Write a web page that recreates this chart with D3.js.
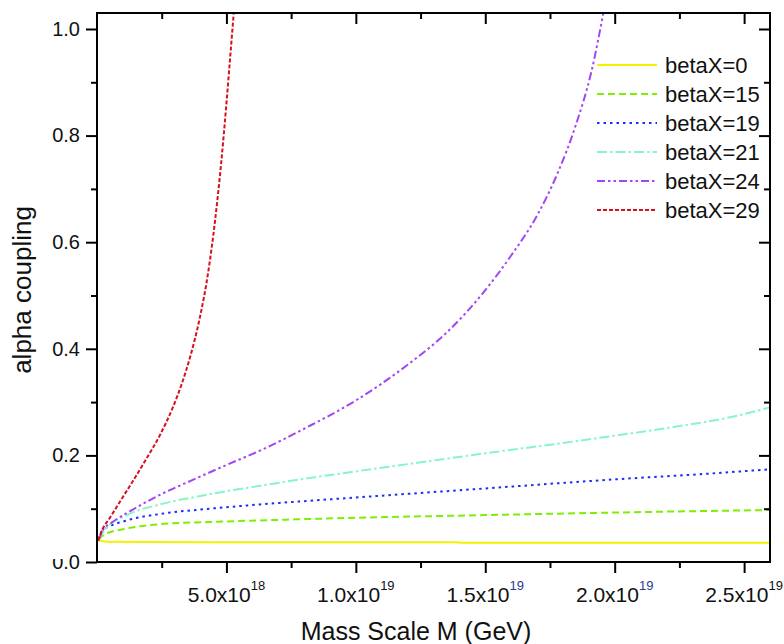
<!DOCTYPE html>
<html>
<head>
<meta charset="utf-8">
<script src="https://cdn.jsdelivr.net/npm/d3@7"></script>
<style>
  body { margin: 0; background: #fff; }
  svg text { font-family: Arial, "Liberation Sans", sans-serif; fill: #111; }
</style>
</head>
<body>
<div id="chart"></div>
<script>
// Set up conventions
let width = 784;
let height = 644;
let margin = ({top: 13, right: 14, bottom: 82, left: 97});

// values: [mass M in GeV, alpha]
let beta0 = [[0.05e18, 0.041], [0.5e18, 0.038], [2e18, 0.0375], [8e18, 0.037], [13.8e18, 0.037], [14.2e18, 0.036], [26e18, 0.036]];
let beta15 = [[0.05e18, 0.042], [0.3e18, 0.052], [1.16e18, 0.063], [2.43e18, 0.071], [4.36e18, 0.075], [6.3e18, 0.078], [10e18, 0.083], [15e18, 0.088], [21.4e18, 0.094], [26e18, 0.0975]];
let beta19 = [[0.05e18, 0.043], [0.2e18, 0.058], [1.16e18, 0.078], [2.43e18, 0.09], [4.36e18, 0.1], [6.3e18, 0.108], [10e18, 0.121], [15e18, 0.138], [20e18, 0.155], [23.7e18, 0.166], [26e18, 0.174]];
let beta21 = [[0.05e18, 0.042], [0.3e18, 0.06], [1.16e18, 0.088], [2.43e18, 0.108], [4e18, 0.124], [5e18, 0.133], [6.3e18, 0.143], [8e18, 0.156], [10e18, 0.17], [12.5e18, 0.187], [15e18, 0.204], [17.5e18, 0.22], [20e18, 0.237], [22.5e18, 0.255], [24.5e18, 0.272], [26e18, 0.29]];
let beta24 = [[0.05e18, 0.04], [0.23e18, 0.06], [0.6e18, 0.075], [1.16e18, 0.092], [2.43e18, 0.126], [3.7e18, 0.154], [5e18, 0.182], [6.3e18, 0.209], [8e18, 0.25], [10e18, 0.303], [12e18, 0.37], [13.5e18, 0.43], [15e18, 0.51], [16e18, 0.575], [17e18, 0.65], [17.8e18, 0.73], [18.5e18, 0.82], [19.1e18, 0.92], [19.6e18, 1.04]];
let beta29 = [[0.05e18, 0.04], [0.2e18, 0.06], [0.5e18, 0.083], [1e18, 0.122], [1.39e18, 0.152], [1.9e18, 0.193], [2.43e18, 0.238], [2.93e18, 0.29], [3.28e18, 0.335], [3.6e18, 0.385], [3.98e18, 0.46], [4.3e18, 0.545], [4.56e18, 0.64], [4.8e18, 0.75], [5e18, 0.86], [5.15e18, 0.95], [5.3e18, 1.04]];

let seriesNames = ["betaX=0", "betaX=15", "betaX=19", "betaX=21", "betaX=24", "betaX=29"];
let seriesData = [beta0, beta15, beta19, beta21, beta24, beta29];

let xMajorTicks = [5e18, 1e19, 1.5e19, 2e19, 2.5e19];
let xTickMantissa = ["5.0", "1.0", "1.5", "2.0", "2.5"];
let xTickExponent = ["18", "19", "19", "19", "19"];
let yMajorTicks = [0, 0.2, 0.4, 0.6, 0.8, 1.0];

let colors = ["#f2f200", "#7cf000", "#1a2cf5", "#86f5c8", "#a146f5", "#d8101e"];
let dashes = ["none", "7,4", "2.5,4", "10,3,2.5,3", "8,3,2.5,3,2.5,3", "4,2"];

let svg = d3.select("#chart")
    .append("svg")
    .attr("width", width)
    .attr("height", height)

let xScale = d3.scaleLinear()
    .domain([0, 2.6e19])
    .range([margin.left, width - margin.right])

let yScale = d3.scaleLinear()
    .domain([0, 1.03])
    .range([height - margin.bottom, margin.top])

let xMinor = d3.range(2.5e18, 2.6e19, 5e18)
let yMinor = d3.range(0.1, 1.03, 0.2)

let plotBottom = height - margin.bottom
let plotRight = width - margin.right

svg.append("clipPath")
    .attr("id", "clip")
    .append("rect")
    .attr("x", margin.left)
    .attr("y", margin.top)
    .attr("width", plotRight - margin.left)
    .attr("height", plotBottom - margin.top)

// lines
let line = d3.line()
    .curve(d3.curveMonotoneX)
    .x(d => xScale(d[0]))
    .y(d => yScale(d[1]))

svg.append("g")
    .attr("clip-path", "url(#clip)")
    .selectAll("path")
    .data(seriesData)
    .enter()
    .append("path")
    .attr("d", d => line(d))
    .style("fill", "none")
    .attr("stroke", (d, i) => colors[i])
    .attr("stroke-width", 2)
    .attr("stroke-dasharray", (d, i) => dashes[i])

// axes: major + minor on all four sides
function styleAxis(g) {
    g.select(".domain").remove()
    g.selectAll("line").attr("stroke", "#000").attr("stroke-width", 2)
}

svg.append("g")
    .attr("transform", "translate(0," + plotBottom + ")")
    .call(d3.axisBottom(xScale).tickValues(xMajorTicks).tickSize(11).tickFormat(""))
    .call(styleAxis)
svg.append("g")
    .attr("transform", "translate(0," + plotBottom + ")")
    .call(d3.axisBottom(xScale).tickValues(xMinor).tickSize(6).tickFormat(""))
    .call(styleAxis)
svg.append("g")
    .attr("transform", "translate(0," + margin.top + ")")
    .call(d3.axisBottom(xScale).tickValues(xMajorTicks).tickSize(11).tickFormat(""))
    .call(styleAxis)
svg.append("g")
    .attr("transform", "translate(0," + margin.top + ")")
    .call(d3.axisBottom(xScale).tickValues(xMinor).tickSize(6).tickFormat(""))
    .call(styleAxis)

svg.append("g")
    .attr("transform", "translate(" + margin.left + ",0)")
    .call(d3.axisLeft(yScale).tickValues(yMajorTicks).tickSize(11).tickPadding(6).tickFormat(d3.format(".1f")))
    .call(styleAxis)
    .selectAll("text")
    .style("font-size", "20px")
    .attr("fill", "#111")
svg.append("g")
    .attr("transform", "translate(" + margin.left + ",0)")
    .call(d3.axisLeft(yScale).tickValues(yMinor).tickSize(6).tickFormat(""))
    .call(styleAxis)
svg.append("g")
    .attr("transform", "translate(" + plotRight + ",0)")
    .call(d3.axisLeft(yScale).tickValues(yMajorTicks.slice(1)).tickSize(11).tickFormat(""))
    .call(styleAxis)
svg.append("g")
    .attr("transform", "translate(" + plotRight + ",0)")
    .call(d3.axisLeft(yScale).tickValues(yMinor).tickSize(6).tickFormat(""))
    .call(styleAxis)

// frame
svg.append("rect")
    .attr("x", margin.left)
    .attr("y", margin.top)
    .attr("width", plotRight - margin.left)
    .attr("height", plotBottom - margin.top)
    .style("fill", "none")
    .attr("stroke", "#000")
    .attr("stroke-width", 2)

// x tick labels with exponent
let xLabels = svg.selectAll(".xlab")
    .data(xMajorTicks)
    .enter()
    .append("text")
    .attr("class", "xlab")
    .attr("x", d => xScale(d))
    .attr("y", plotBottom + 40)
    .attr("text-anchor", "middle")
    .style("font-size", "21px")

xLabels.append("tspan").text((d, i) => xTickMantissa[i] + "x10")
xLabels.append("tspan")
    .attr("dy", -12)
    .style("font-size", "13px")
    .attr("fill", (d, i) => (i == 2 || i == 3) ? "#2b3a8c" : "#111")
    .text((d, i) => xTickExponent[i])

// the "0.0" label is partly covered in the original
svg.append("rect")
    .attr("x", 40)
    .attr("y", plotBottom - 14)
    .attr("width", 24)
    .attr("height", 11)
    .style("fill", "#fff")

// axis titles
svg.append("text")
    .attr("x", 416)
    .attr("y", 640)
    .attr("text-anchor", "middle")
    .style("font-size", "25px")
    .text("Mass Scale M (GeV)")

svg.append("text")
    .attr("transform", "translate(31," + 290 + ") rotate(-90)")
    .attr("text-anchor", "middle")
    .style("font-size", "26px")
    .text("alpha coupling")

// legend
let legend = svg.selectAll(".legend")
    .data(seriesNames)
    .enter()
    .append("g")
    .attr("class", "legend")
    .attr("transform", (d, i) => "translate(597," + (65 + i * 29) + ")")

legend.append("line")
    .attr("x1", 0)
    .attr("x2", 60)
    .attr("stroke", (d, i) => colors[i])
    .attr("stroke-width", 2)
    .attr("stroke-dasharray", (d, i) => dashes[i])

legend.append("text")
    .attr("x", 68)
    .attr("y", 8)
    .style("font-size", "22px")
    .text(d => d)
</script>
</body>
</html>
